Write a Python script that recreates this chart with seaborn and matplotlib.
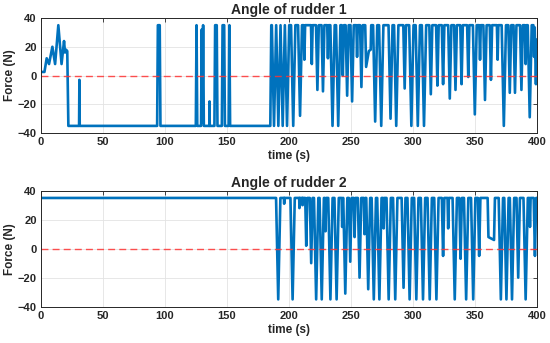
import pandas as pd
import seaborn as sns
import matplotlib.pyplot as plt

# ---- data (time in s, force in N) ----
LIMIT = 35

# rudder 1: start-up transient
r1_start_t = [0, 2.8, 4.6, 6.5, 9.2, 11.4, 14, 16.6, 18.6, 19.4, 20.2, 21.2, 22.1]
r1_start_v = [2.5, 2.5, 12, 8, 20, 8, 35, 8, 24, 16, 18, 17, -35]

# rudder 1: spikes off the lower limit (22 s .. 185 s)
r1_spike_t = [31, 94.3, 95.8, 125.5, 129.7, 130.8, 136, 140.5, 141.8, 146.5, 147.8, 152]
r1_spike_v = [-3, 35, 35, 35, 32, 35, -18, 35, 35, 35, 35, 35]
r1_spike_hold = [94.3, 140.5, 146.5]

# rudder 1: dips below the upper limit (185 s .. 400 s)
r1_dip_t = [188, 191.5, 195, 198.5, 203.5, 209, 212.5, 218.5, 223, 227.5,
            231.5, 235.2, 239.8, 243.5, 247, 251, 255, 258.5, 262.3, 264.5,
            266, 269.6, 274.5, 282, 286.6, 293.4, 298.8, 304, 309, 314.5,
            319.8, 324.4, 329.8, 334.4, 339.3, 344.7, 350, 354.2, 358.2, 363,
            368.4, 373.4, 378.2, 382.4, 387.6, 391, 394.3, 397.8, 399.3]
r1_dip_v = [-35, -35, -35, -35, -35, -28, 11, 8, -10, -11,
            12, -35, -35, 0, -14, -18, 13, -8, 6, 17,
            18, -32, -35, -30, -35, -9, -35, -35, -35, -13,
            -7, -6, -16, -10, -6, -1, -27, 11, -17, -3,
            11, -35, -12, -12, -10, 8, -29, 13, -6]
r1_dip_hold = [262.3, 264.5]
r1_end = 25

# rudder 2: dips below the upper limit
r2_dip_t = [191.4, 196.2, 203, 208.5, 211, 214, 218, 222, 226.5, 229.5,
            233.5, 238.5, 243, 245.5, 249.5, 253, 257, 261, 264, 268.5,
            273, 276.5, 280.5, 285.8, 292.5, 297.4, 302.8, 308.2, 313.6, 319,
            324.4, 328.5, 333.8, 338.5, 343, 348.7, 353.5, 361, 365.5, 371,
            375.5, 380, 385, 391, 394.5, 398.5]
r2_dip_v = [-35, 31, -35, 28, 30, 2, -10, -35, -35, 12,
            -35, -35, 15, -31, -9, 8, -20, 10, -28, -35,
            -35, 14, -35, -35, -27, -35, -35, -35, -35, -35,
            -5, 14, -35, -7, -35, -35, -5, 8, 6, -35,
            -35, -35, -20, -35, 15, -5]
r2_dip_hold = [361]
r2_end = 35


def limited_trace(t0, base, ext_t, ext_v, rate, t_end, v_end, hold=()):
    """Rate-limited signal sitting at `base` that swings out to each extreme."""
    pts = [(t0, base)]
    prev = None
    for t, v in zip(ext_t, ext_v):
        w = abs(base - v) / rate
        if prev is not None and prev[0] in hold:
            pts.pop()
        elif prev is not None and pts[-1][0] > t - w:
            # ramps meet before reaching the limit
            pts.pop()
            s = 1 if base > v else -1
            xm = (prev[0] + t) / 2 + (v - prev[1]) / (2 * s * rate)
            pts.append((xm, prev[1] + s * rate * (xm - prev[0])))
        else:
            pts.append((t - w, base))
        pts += [(t, v), (t + w, base)]
        prev = (t, v)
    if pts[-1][0] >= t_end:
        pts.pop()
    pts.append((t_end, v_end))
    return pts


r1 = (list(zip(r1_start_t, r1_start_v))
      + limited_trace(22.1, -LIMIT, r1_spike_t, r1_spike_v, 120, 185, -LIMIT, r1_spike_hold)
      + limited_trace(185.8, LIMIT, r1_dip_t, r1_dip_v, 40, 400, r1_end, r1_dip_hold))
r2 = limited_trace(0, LIMIT, r2_dip_t, r2_dip_v, 40, 400, r2_end, r2_dip_hold)

df1 = pd.DataFrame(r1, columns=['time', 'force'])
df2 = pd.DataFrame(r2, columns=['time', 'force'])

sns.set_theme(style="whitegrid")
plt.rcParams['font.family'] = ['Liberation Sans', 'DejaVu Sans']

fig = plt.figure(figsize=(5.5, 3.43), dpi=100)
ax1 = fig.add_axes([0.0745, 0.612, 0.9015, 0.3355])
ax2 = fig.add_axes([0.0745, 0.106, 0.9015, 0.338])

for ax, df, title in [(ax1, df1, 'Angle of rudder 1'), (ax2, df2, 'Angle of rudder 2')]:
    sns.lineplot(data=df, x='time', y='force', ax=ax, color='#0072BD', linewidth=1.9,
                 estimator=None, sort=False)
    ax.axhline(0, color='#ff3333', linestyle='--', linewidth=1.0, dashes=(5, 3), alpha=0.85)
    ax.set_xlim(0, 400)
    ax.set_ylim(-40, 40)
    ax.set_xticks(range(0, 401, 50))
    ax.set_yticks(range(-40, 41, 20))
    ax.set_title(title, fontsize=10, fontweight='bold', pad=3)
    ax.set_xlabel('time (s)', fontsize=8.5, fontweight='bold', labelpad=2)
    ax.set_ylabel('Force (N)', fontsize=8.5, fontweight='bold', labelpad=1)
    ax.grid(True, color='#e3e3e3', linewidth=0.6)
    ax.tick_params(direction='in', top=True, right=True, length=3, width=0.6,
                   labelsize=8, pad=3, colors='#262626')
    for lab in ax.get_xticklabels() + ax.get_yticklabels():
        lab.set_fontweight('bold')
    for sp in ax.spines.values():
        sp.set_color('#262626')
        sp.set_linewidth(0.7)

fig.savefig('out.png', dpi=100)
